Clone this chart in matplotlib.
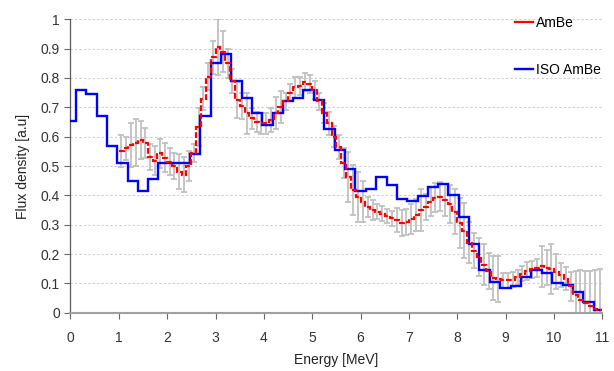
import numpy as np
import matplotlib
matplotlib.use("Agg")
import matplotlib.pyplot as plt
from matplotlib.lines import Line2D

plt.rcParams["font.family"] = ["Liberation Sans", "DejaVu Sans"]

# ISO 8529 AmBe reference spectrum (group edges in MeV, flux per group)
iso_edges = [0.0, 0.11, 0.33, 0.54, 0.75, 0.97, 1.18, 1.40, 1.61, 1.82, 2.04, 2.25, 2.47,
             2.68, 2.90, 3.11, 3.32, 3.54, 3.75, 3.97, 4.18, 4.39, 4.61, 4.82, 5.04, 5.25,
             5.47, 5.68, 5.89, 6.11, 6.32, 6.54, 6.75, 6.96, 7.18, 7.39, 7.61, 7.82, 8.03,
             8.25, 8.46, 8.68, 8.89, 9.11, 9.32, 9.53, 9.75, 9.96, 10.18, 10.39, 10.60,
             10.82, 11.0]
iso_flux = [0.655, 0.759, 0.745, 0.669, 0.568, 0.510, 0.450, 0.416, 0.456, 0.509, 0.509,
            0.510, 0.541, 0.669, 0.850, 0.881, 0.789, 0.731, 0.680, 0.640, 0.681, 0.722,
            0.731, 0.759, 0.725, 0.625, 0.555, 0.490, 0.414, 0.420, 0.463, 0.435, 0.387,
            0.382, 0.398, 0.427, 0.440, 0.400, 0.327, 0.233, 0.147, 0.104, 0.083, 0.091,
            0.123, 0.145, 0.134, 0.100, 0.094, 0.072, 0.038, 0.009]

# measured AmBe, 0.1 MeV bins from 1 to 11 MeV
ambe_edges = np.round(np.arange(1.0, 11.001, 0.1), 2)
ambe_flux = [0.552, 0.560, 0.572, 0.580, 0.590, 0.578, 0.530, 0.518, 0.543, 0.528,
             0.515, 0.500, 0.480, 0.470, 0.500, 0.545, 0.634, 0.730, 0.805, 0.870,
             0.905, 0.890, 0.850, 0.790, 0.725, 0.705, 0.680, 0.662, 0.650, 0.645,
             0.645, 0.657, 0.680, 0.700, 0.720, 0.750, 0.768, 0.773, 0.787, 0.780,
             0.759, 0.720, 0.680, 0.645, 0.600, 0.565, 0.510, 0.464, 0.418, 0.395,
             0.378, 0.360, 0.350, 0.345, 0.338, 0.330, 0.322, 0.316, 0.305, 0.310,
             0.320, 0.333, 0.350, 0.360, 0.378, 0.392, 0.396, 0.385, 0.370, 0.345,
             0.305, 0.280, 0.238, 0.212, 0.190, 0.163, 0.142, 0.120, 0.115, 0.110,
             0.110, 0.113, 0.122, 0.133, 0.142, 0.148, 0.153, 0.158, 0.154, 0.148,
             0.140, 0.128, 0.116, 0.090, 0.062, 0.045, 0.033, 0.022, 0.014, 0.010]
ambe_err = [0.055, 0.040, 0.075, 0.080, 0.065, 0.050, 0.045, 0.050, 0.050, 0.050,
            0.045, 0.045, 0.060, 0.060, 0.050, 0.030, 0.065, 0.040, 0.045, 0.055,
            0.095, 0.070, 0.050, 0.040, 0.060, 0.045, 0.070, 0.035, 0.035, 0.035,
            0.035, 0.040, 0.055, 0.055, 0.030, 0.030, 0.035, 0.030, 0.030, 0.030,
            0.030, 0.030, 0.035, 0.040, 0.035, 0.040, 0.050, 0.085, 0.085, 0.085,
            0.070, 0.035, 0.035, 0.025, 0.025, 0.025, 0.025, 0.040, 0.045, 0.045,
            0.050, 0.055, 0.070, 0.045, 0.050, 0.050, 0.050, 0.055, 0.065, 0.075,
            0.085, 0.095, 0.070, 0.060, 0.065, 0.070, 0.060, 0.075, 0.080, 0.025,
            0.025, 0.025, 0.025, 0.025, 0.030, 0.030, 0.030, 0.070, 0.060, 0.085,
            0.060, 0.040, 0.040, 0.050, 0.080, 0.100, 0.110, 0.120, 0.130, 0.140]

x_ticks = list(range(0, 12))
y_ticks = [0, 0.1, 0.2, 0.3, 0.4, 0.5, 0.6, 0.7, 0.8, 0.9, 1.0]
y_labels = ["0", "0.1", "0.2", "0.3", "0.4", "0.5", "0.6", "0.7", "0.8", "0.9", "1"]

RED = "#ff0000"
BLUE = "#0000ff"

fig = plt.figure(figsize=(6.14, 3.71), dpi=100)
ax = fig.add_axes([0.1148, 0.157, 0.866, 0.791])

centers = (ambe_edges[:-1] + ambe_edges[1:]) / 2
ax.stairs(iso_flux, iso_edges, baseline=None, color=BLUE, lw=1.7, zorder=3)
ax.errorbar(centers, ambe_flux, yerr=ambe_err, fmt="none", ecolor="#c0c0c0",
            elinewidth=1.3, capsize=2.5, capthick=1.3, zorder=2)
ax.stairs(ambe_flux, ambe_edges, baseline=None, color=RED, lw=1.6,
          ls=(0, (2.6, 1.0)), zorder=4)

ax.set_xlim(0, 11)
ax.set_ylim(0, 1)
ax.set_xticks(x_ticks)
ax.set_yticks(y_ticks)
ax.set_yticklabels(y_labels)
ax.tick_params(labelsize=10, colors="#333333", length=4, width=0.8)
ax.tick_params(axis="x", pad=9, color="#666666")
ax.tick_params(axis="y", color="#666666")
ax.yaxis.grid(True, color="#cccccc", ls=(0, (2, 2)), lw=0.8)
ax.set_axisbelow(True)
for s in ("top", "right"):
    ax.spines[s].set_visible(False)
ax.spines["left"].set_color("#595959")
ax.spines["left"].set_linewidth(0.9)
ax.spines["bottom"].set_color("#a0a0a0")
ax.spines["bottom"].set_linewidth(1.5)

ax.set_xlabel("Energy [MeV]", fontsize=10, color="#222222", labelpad=6)
ax.set_ylabel("Flux density [a.u]", fontsize=10, color="#222222", labelpad=8)

handles = [Line2D([], [], color=RED, lw=1.6), Line2D([], [], color=BLUE, lw=1.7)]
ax.legend(handles, ["AmBe", "ISO AmBe"], loc="upper left", bbox_to_anchor=(0.822, 1.035),
          frameon=False, fontsize=10, handlelength=1.3, handletextpad=0.25,
          labelspacing=2.35, borderpad=0)

fig.savefig("out.png", dpi=100)
